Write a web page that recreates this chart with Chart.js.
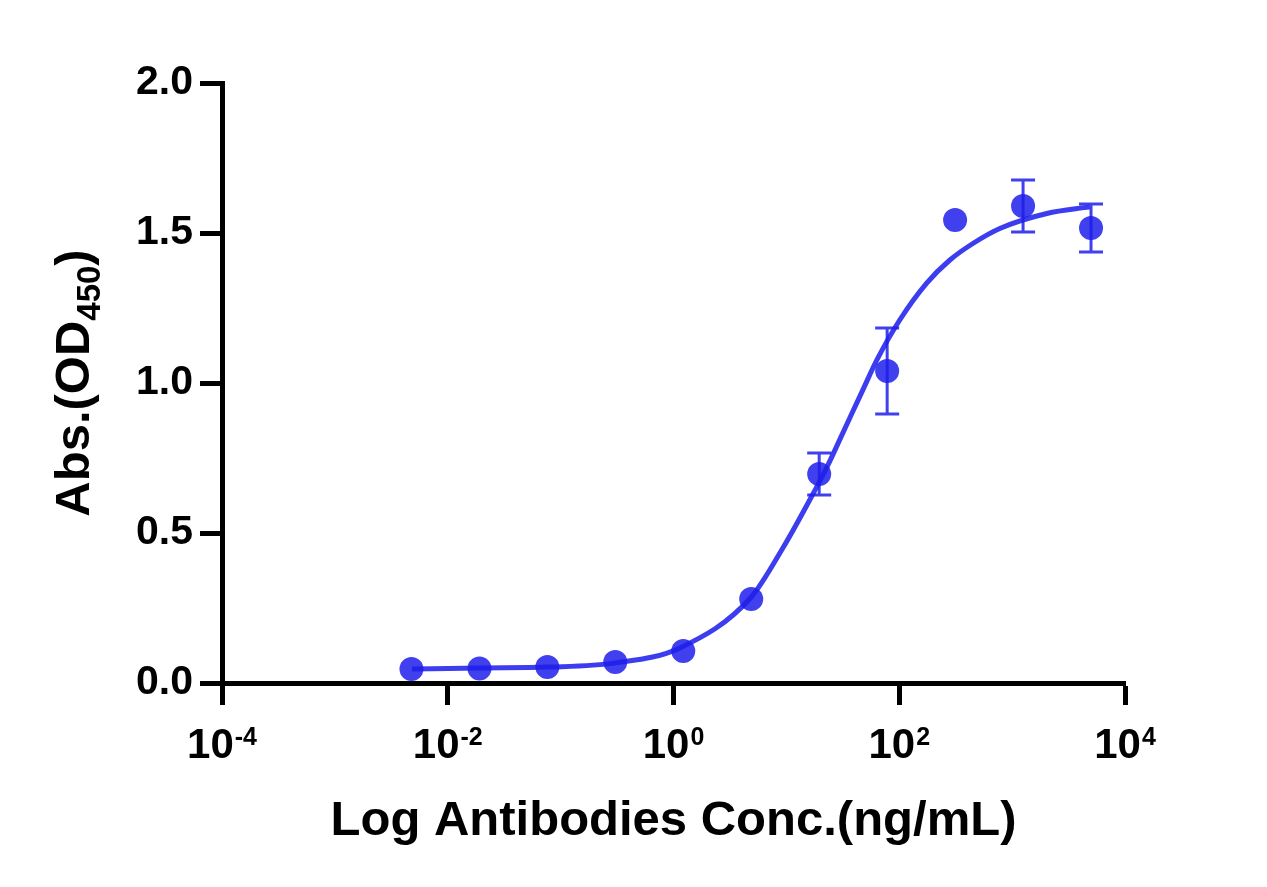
<!DOCTYPE html>
<html>
<head>
<meta charset="utf-8">
<title>Log Antibodies Conc. vs Abs.(OD450)</title>
<script src="https://cdn.jsdelivr.net/npm/chart.js@4.4.1/dist/chart.umd.min.js"></script>
<style>
  html, body { margin: 0; padding: 0; background: #fff; }
  canvas { display: block; }
</style>
</head>
<body>
<canvas id="curveChart" width="1267" height="887"></canvas>
<script>
// measured points (4-fold dilution series, ng/mL)
const concentrations = [0.00477, 0.0191, 0.0763, 0.305, 1.22, 4.88, 19.53, 78.13, 312.5, 1250, 5000];
const meanOD = [0.047, 0.048, 0.053, 0.070, 0.107, 0.280, 0.697, 1.040, 1.543, 1.590, 1.517];
const sdOD = [0, 0, 0, 0, 0, 0, 0.070, 0.143, 0, 0.087, 0.080];

// fitted curve
const curveConc = [0.00482, 0.0197, 0.0773, 0.309, 1.14, 4.85, 9.31, 16.1, 22.9, 31.6, 47.6, 63.4, 101, 175, 281, 449, 778, 2030, 4880];
const curveOD = [0.047, 0.050, 0.053, 0.067, 0.117, 0.285, 0.450, 0.610, 0.720, 0.833, 0.977, 1.077, 1.210, 1.333, 1.410, 1.465, 1.515, 1.565, 1.587];

// axes
const xTickValues = [1e-4, 1e-2, 1, 1e2, 1e4];
const xTickExponents = ['-4', '-2', '0', '2', '4'];
const yMin = 0;
const yMax = 2.0;
const yStep = 0.5;

const xTitle = 'Log Antibodies Conc.(ng/mL)';
const yTitleMain = 'Abs.(OD';
const yTitleSub = '450';
const yTitleEnd = ')';

const FONT = '"Liberation Sans", Arial, Helvetica, sans-serif';
const BLUE = 'rgba(30, 30, 235, 0.85)';
const CURVE_BLUE = 'rgba(40, 40, 238, 0.9)';

const errorBars = {
    id: 'errorBars',
    afterDatasetsDraw(chart) {
        const { ctx, scales: { x, y } } = chart;
        ctx.save();
        ctx.strokeStyle = BLUE;
        ctx.lineWidth = 3;
        ctx.beginPath();
        concentrations.forEach((c, i) => {
            if (!sdOD[i]) return;
            const px = x.getPixelForValue(c);
            const top = y.getPixelForValue(meanOD[i] + sdOD[i]);
            const bot = y.getPixelForValue(meanOD[i] - sdOD[i]);
            ctx.moveTo(px, top);
            ctx.lineTo(px, bot);
            ctx.moveTo(px - 12, top);
            ctx.lineTo(px + 12, top);
            ctx.moveTo(px - 12, bot);
            ctx.lineTo(px + 12, bot);
        });
        ctx.stroke();
        ctx.restore();
    }
};

// power-of-ten tick labels and axis titles
const axisText = {
    id: 'axisText',
    afterDraw(chart) {
        const { ctx, scales: { x, y } } = chart;
        ctx.save();
        ctx.fillStyle = '#000';
        ctx.textBaseline = 'alphabetic';
        ctx.textAlign = 'left';

        xTickValues.forEach((v, i) => {
            const px = x.getPixelForValue(v);
            ctx.font = 'bold 42px ' + FONT;
            const wBase = ctx.measureText('10').width;
            ctx.font = 'bold 25px ' + FONT;
            const wExp = ctx.measureText(xTickExponents[i]).width;
            const start = px - (wBase + wExp + 1) / 2;
            ctx.font = 'bold 42px ' + FONT;
            ctx.fillText('10', start, 758);
            ctx.font = 'bold 25px ' + FONT;
            ctx.fillText(xTickExponents[i], start + wBase + 1, 745);
        });

        ctx.font = 'bold 49px ' + FONT;
        ctx.textAlign = 'center';
        ctx.fillText(xTitle, (x.left + x.right) / 2, 835);

        // rotated y title with subscript
        ctx.translate(89, (y.top + y.bottom) / 2);
        ctx.rotate(-Math.PI / 2);
        ctx.textAlign = 'left';
        ctx.font = 'bold 49px ' + FONT;
        const w1 = ctx.measureText(yTitleMain).width;
        const w3 = ctx.measureText(yTitleEnd).width;
        ctx.font = 'bold 33px ' + FONT;
        const w2 = ctx.measureText(yTitleSub).width;
        let pos = -(w1 + w2 + w3) / 2;
        ctx.font = 'bold 49px ' + FONT;
        ctx.fillText(yTitleMain, pos, 0);
        pos += w1;
        ctx.font = 'bold 33px ' + FONT;
        ctx.fillText(yTitleSub, pos, 11);
        pos += w2;
        ctx.font = 'bold 49px ' + FONT;
        ctx.fillText(yTitleEnd, pos, 0);
        ctx.restore();
    }
};

const ctxCurve = document.getElementById('curveChart').getContext('2d');

new Chart(ctxCurve, {
    type: 'scatter',
    data: {
        datasets: [{
            label: 'Fit',
            data: curveConc.map((c, i) => ({ x: c, y: curveOD[i] })),
            showLine: true,
            borderColor: CURVE_BLUE,
            borderWidth: 5,
            pointRadius: 0,
            cubicInterpolationMode: 'monotone',
            fill: false,
            order: 2
        }, {
            label: 'Abs.(OD450)',
            data: concentrations.map((c, i) => ({ x: c, y: meanOD[i] })),
            backgroundColor: BLUE,
            borderWidth: 0,
            pointRadius: 12,
            pointHoverRadius: 12,
            order: 1
        }]
    },
    options: {
        responsive: false,
        devicePixelRatio: 1,
        animation: false,
        layout: { padding: { left: 0, top: 83, right: 142, bottom: 0 } },
        plugins: {
            legend: { display: false },
            tooltip: { enabled: false },
            title: { display: false }
        },
        scales: {
            x: {
                type: 'logarithmic',
                min: xTickValues[0],
                max: xTickValues[xTickValues.length - 1],
                afterBuildTicks: (scale) => {
                    scale.ticks = xTickValues.map(v => ({ value: v }));
                },
                afterFit: (scale) => { scale.height = 204; },
                ticks: { display: false },
                grid: {
                    drawOnChartArea: false,
                    drawTicks: true,
                    tickLength: 22,
                    tickWidth: 5,
                    tickColor: '#000'
                },
                border: { display: true, color: '#000', width: 5 }
            },
            y: {
                min: yMin,
                max: yMax,
                afterFit: (scale) => { scale.width = 222; },
                ticks: {
                    stepSize: yStep,
                    color: '#000',
                    padding: 7,
                    font: { family: FONT, size: 41, weight: 'bold' },
                    callback: (v) => v.toFixed(1)
                },
                grid: {
                    drawOnChartArea: false,
                    drawTicks: true,
                    tickLength: 22,
                    tickWidth: 5,
                    tickColor: '#000'
                },
                border: { display: true, color: '#000', width: 5 }
            }
        }
    },
    plugins: [errorBars, axisText]
});
</script>
</body>
</html>
